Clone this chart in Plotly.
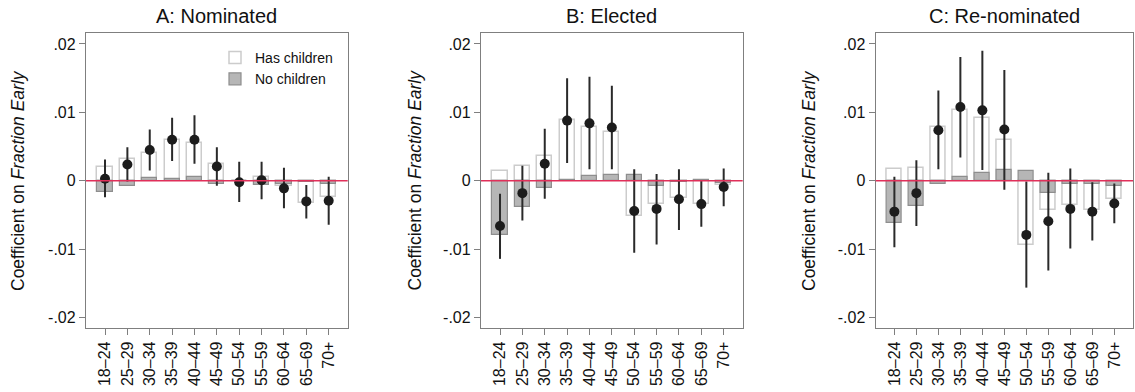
import plotly.graph_objects as go

ages = ["18–24", "25–29", "30–34", "35–39", "40–44", "45–49",
        "50–54", "55–59", "60–64", "65–69", "70+"]

# Panel A: Nominated
A_has = [0.0020, 0.0032, 0.0041, 0.0059, 0.0055, 0.0025, 0.0000, 0.0006, -0.0008, -0.0032, -0.0023]
A_no = [-0.0017, -0.0007, 0.0004, 0.0002, 0.0006, -0.0004, 0.0000, -0.0006, -0.0004, -0.0001, -0.0005]
A_est = [0.0003, 0.0024, 0.0045, 0.0060, 0.0060, 0.0021, -0.0002, 0.0001, -0.0011, -0.0030, -0.0029]
A_lo = [-0.0024, -0.0001, 0.0015, 0.0029, 0.0025, -0.0007, -0.0031, -0.0027, -0.0040, -0.0055, -0.0064]
A_hi = [0.0031, 0.0049, 0.0075, 0.0092, 0.0096, 0.0049, 0.0028, 0.0028, 0.0019, -0.0006, 0.0006]

# Panel B: Elected
B_has = [0.0014, 0.0021, 0.0036, 0.0089, 0.0079, 0.0071, -0.0052, -0.0034, -0.0025, -0.0034, -0.0006]
B_no = [-0.0079, -0.0038, -0.0010, 0.0001, 0.0007, 0.0008, 0.0008, -0.0007, -0.0002, 0.0001, -0.0003]
B_est = [-0.0066, -0.0018, 0.0025, 0.0088, 0.0084, 0.0078, -0.0044, -0.0041, -0.0027, -0.0034, -0.0009]
B_lo = [-0.0114, -0.0058, -0.0026, 0.0026, 0.0017, 0.0017, -0.0105, -0.0093, -0.0072, -0.0067, -0.0037]
B_hi = [-0.0019, 0.0022, 0.0076, 0.0150, 0.0152, 0.0139, 0.0017, 0.0010, 0.0017, 0.0000, 0.0018]

# Panel C: Re-nominated
C_has = [0.0017, 0.0019, 0.0079, 0.0103, 0.0092, 0.0059, -0.0093, -0.0042, -0.0036, -0.0042, -0.0026]
C_no = [-0.0062, -0.0037, -0.0005, 0.0005, 0.0012, 0.0016, 0.0014, -0.0018, -0.0005, -0.0004, -0.0007]
C_est = [-0.0045, -0.0018, 0.0074, 0.0108, 0.0103, 0.0075, -0.0079, -0.0059, -0.0041, -0.0045, -0.0033]
C_lo = [-0.0097, -0.0066, 0.0017, 0.0034, 0.0016, -0.0013, -0.0156, -0.0131, -0.0099, -0.0087, -0.0062]
C_hi = [0.0006, 0.0030, 0.0132, 0.0181, 0.0190, 0.0162, -0.0001, 0.0012, 0.0018, -0.0002, -0.0004]

titles = ["A: Nominated", "B: Elected", "C: Re-nominated"]
ytick_vals = [-0.02, -0.01, 0, 0.01, 0.02]
ytick_text = ["-.02", "-.01", "0", ".01", ".02"]

panels = [
    (A_has, A_no, A_est, A_lo, A_hi),
    (B_has, B_no, B_est, B_lo, B_hi),
    (C_has, C_no, C_est, C_lo, C_hi),
]

W, H = 1135, 392
x_domains = [[86 / W, 347.7 / W], [481 / W, 742.7 / W], [875.7 / W, 1133 / W]]
y_domain = [1 - 328 / H, 1 - 33 / H]
ytitle_x = [17.5 / W, 414 / W, 808.5 / W]

FONT = "Liberation Sans, Arial, Helvetica, sans-serif"
FRAME = "#7f7f7f"

fig = go.Figure()

for i, (has, no, est, lo, hi) in enumerate(panels):
    xa = "x" if i == 0 else f"x{i+1}"
    ya = "y" if i == 0 else f"y{i+1}"
    fig.add_trace(go.Bar(
        x=ages, y=has, width=0.68, name="Has children",
        marker=dict(color="white", line=dict(color="#cccccc", width=1.5)),
        xaxis=xa, yaxis=ya, showlegend=(i == 0), legendrank=1,
    ))
    fig.add_trace(go.Bar(
        x=ages, y=no, width=0.68, name="No children",
        marker=dict(color="#b6b6b6", line=dict(color="#8e8e8e", width=1.2)),
        xaxis=xa, yaxis=ya, showlegend=(i == 0), legendrank=2,
    ))
    fig.add_trace(go.Scatter(
        x=ages, y=est, mode="markers",
        marker=dict(color="#1c1c1c", size=10),
        error_y=dict(type="data", symmetric=False,
                     array=[h - e for h, e in zip(hi, est)],
                     arrayminus=[e - l for e, l in zip(est, lo)],
                     color="#2a2a2a", thickness=2, width=0),
        xaxis=xa, yaxis=ya, showlegend=False,
    ))

    axis_common = dict(
        showline=True, linecolor=FRAME, linewidth=1.3, mirror=True,
        ticks="outside", tickcolor=FRAME, ticklen=6, tickwidth=1.2,
        showgrid=False, zeroline=False,
        tickfont=dict(family=FONT, size=16, color="#111111"),
    )
    xkey = "xaxis" if i == 0 else f"xaxis{i+1}"
    ykey = "yaxis" if i == 0 else f"yaxis{i+1}"
    fig.update_layout(**{
        xkey: dict(axis_common, domain=x_domains[i], anchor=ya,
                   type="category", range=[-0.85, 10.85], tickangle=-90,
                   tickfont=dict(family=FONT, size=16, color="#111111")),
        ykey: dict(axis_common, domain=y_domain, anchor=xa,
                   range=[-0.0215, 0.0216], tickvals=ytick_vals, ticktext=ytick_text),
    })

    # zero reference line
    fig.add_shape(type="line", xref=f"{xa} domain", yref=ya,
                  x0=0, x1=1, y0=0, y1=0,
                  line=dict(color="#e0305a", width=1.5), layer="above")

    # panel title
    fig.add_annotation(text=titles[i], xref="paper", yref="paper",
                       x=sum(x_domains[i]) / 2, y=1 - 16 / H,
                       xanchor="center", yanchor="middle", showarrow=False,
                       font=dict(family=FONT, size=20, color="#111111"))
    # y-axis title
    fig.add_annotation(text="Coefficient on <i>Fraction Early</i>",
                       xref="paper", yref="paper",
                       x=ytitle_x[i], y=1 - 180.5 / H, textangle=-90,
                       xanchor="center", yanchor="middle", showarrow=False,
                       font=dict(family=FONT, size=17.5, color="#111111"))

fig.update_layout(
    width=W, height=H,
    margin=dict(l=0, r=0, t=0, b=0),
    paper_bgcolor="white", plot_bgcolor="white",
    barmode="overlay", bargap=0,
    legend=dict(x=338 / W, xanchor="right", y=1 - 42 / H, yanchor="top",
                bgcolor="rgba(0,0,0,0)", font=dict(family=FONT, size=14, color="#111111"),
                traceorder="normal", tracegroupgap=0, itemwidth=30),
    showlegend=True,
)

fig.write_html("out.html")
